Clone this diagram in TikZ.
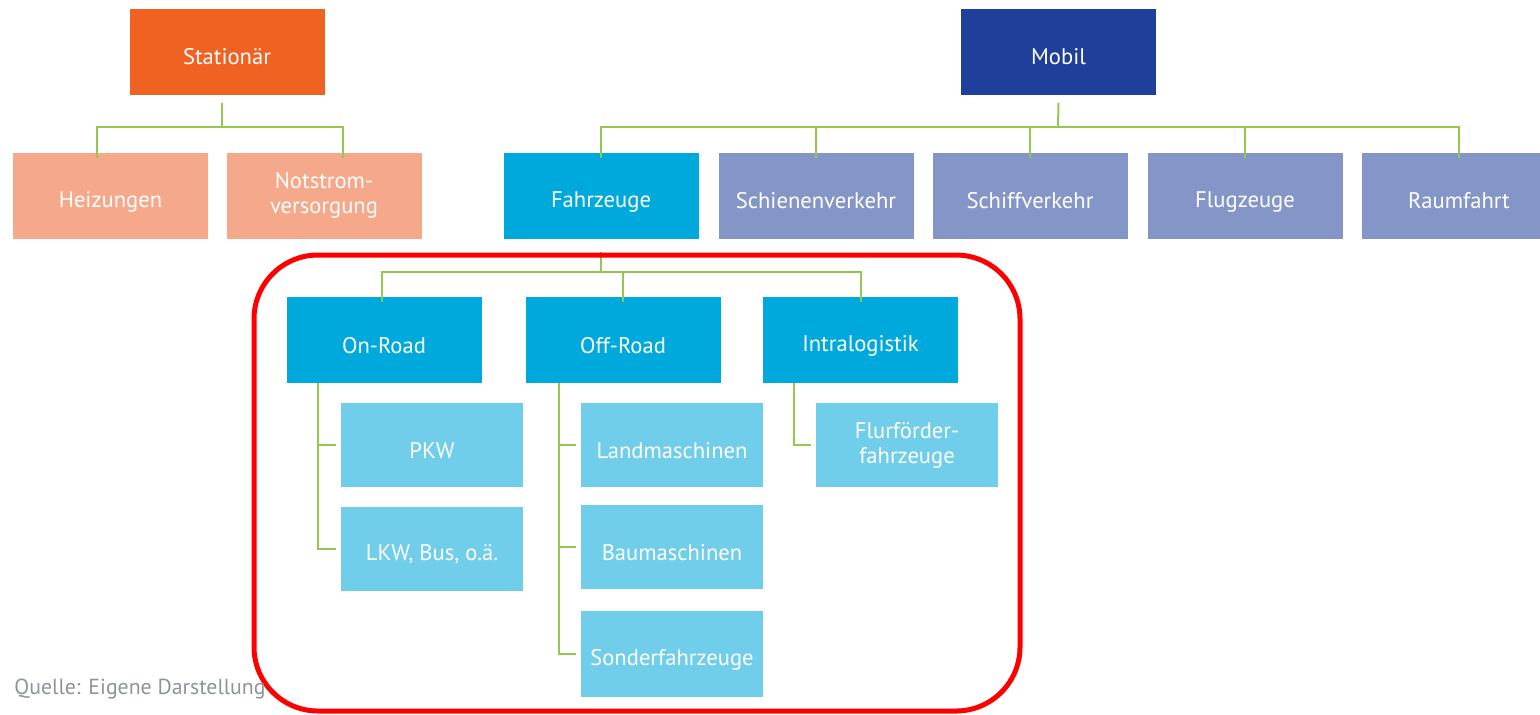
\documentclass[tikz,border=0pt]{standalone}
\usepackage{fontspec}
\setmainfont{PT Sans}
\usepackage{xcolor}
\usepackage{tikz}
\definecolor{statorange}{HTML}{EF6222}
\definecolor{statlight}{HTML}{F5A98A}
\definecolor{mobilblue}{HTML}{1E3F9A}
\definecolor{mobillight}{HTML}{8496C8}
\definecolor{fahrcyan}{HTML}{00A9DB}
\definecolor{fahrlight}{HTML}{70CEEA}
\definecolor{conngreen}{HTML}{92C850}
\definecolor{quellgray}{HTML}{8E949B}

\begin{document}
\begin{tikzpicture}[x=0.5pt, y=-0.5pt,
        box/.style={rectangle, text=white, minimum width=97.5pt, minimum height=43pt,
            inner sep=0pt, align=center, font=\fontsize{11.3}{12.5}\selectfont,
            execute at begin node={\rule[-1pt]{0pt}{15pt}},
            execute at end node={\rule[-1pt]{0pt}{1pt}}},
        sub/.style={box, fill=fahrlight, minimum width=91pt, minimum height=42pt},
        conn/.style={conngreen, line width=1pt}]
        \useasboundingbox (0,0) rectangle (1540,714);
        \fill[white] (0,0) rectangle (1540,714);

        % Stationaer
        \node[box, fill=statorange] (stat) at (227,51.5) {Stationär};
        \node[box, fill=statlight] (heiz) at (110.5,195.5) {Heizungen};
        \node[box, fill=statlight] (notstrom) at (324,195.5) {Notstrom-\\versorgung};
        \coordinate (sbar) at (222,127);
        \draw[conn] ([xshift=-2.5pt,yshift=-4pt]stat.south) -- (sbar);
        \draw[conn] ([xshift=-6.75pt,yshift=-3pt]heiz.north) |- (sbar) -| ([xshift=9.5pt,yshift=-3pt]notstrom.north);

        % Mobil
        \node[box, fill=mobilblue] (mobil) at (1058.5,51.5) {Mobil};
        \node[box, fill=fahrcyan] (fahr) at (601,195.5) {Fahrzeuge};
        \node[box, fill=mobillight] (schien) at (816,195.5) {Schienenverkehr};
        \node[box, fill=mobillight] (schiff) at (1030,195.5) {Schiffverkehr};
        \node[box, fill=mobillight] (flug) at (1245,195.5) {Flugzeuge};
        \node[box, fill=mobillight] (raum) at (1459,195.5) {Raumfahrt};
        \coordinate (mbar) at (1058,127);
        \draw[conn] ([yshift=-4pt]mobil.south) -- (mbar);
        \draw[conn] ([yshift=-3pt]fahr.north) |- (mbar) -| ([yshift=-3pt]raum.north);
        \foreach \n in {schien,schiff,flug}
            \draw[conn] ([yshift=-3pt]\n.north) -- (\n.north |- mbar);

        % Fahrzeuge
        \node[box, fill=fahrcyan] (onroad) at (384,340) {On-Road};
        \node[box, fill=fahrcyan] (offroad) at (623,340) {Off-Road};
        \node[box, fill=fahrcyan] (intra) at (860.5,340) {Intralogistik};
        \coordinate (fbar) at (601,272);
        \draw[conn] ([yshift=-6.5pt]fahr.south) -- (fbar);
        \draw[conn] ([xshift=-1pt,yshift=-2.5pt]onroad.north) |- (fbar) -| ([yshift=-2.5pt]intra.north);
        \draw[conn] ([yshift=-2.5pt]offroad.north) -- (offroad.north |- fbar);

        % On-Road
        \node[sub] (pkw) at (432,445) {PKW};
        \node[sub] (lkw) at (432,548.5) {LKW, Bus, o.ä.};
        \coordinate (onleg) at ([xshift=16pt]onroad.south west);
        \draw[conn] (onleg) |- ([xshift=-2.5pt]lkw.west);
        \draw[conn] (onleg |- pkw.west) -- ([xshift=-2.5pt]pkw.west);

        % Off-Road
        \node[sub] (land) at (672,445) {Landmaschinen};
        \node[sub] (bau) at (672,547) {Baumaschinen};
        \node[sub, minimum height=43pt] (sonder) at (672,654) {Sonderfahrzeuge};
        \coordinate (offleg) at ([xshift=17pt]offroad.south west);
        \draw[conn] (offleg) |- ([xshift=-2.5pt]sonder.west);
        \foreach \n in {land,bau}
            \draw[conn] (offleg |- \n.west) -- ([xshift=-2.5pt]\n.west);

        % Intralogistik
        \node[sub] (flur) at (907,445) {Flurförder-\\fahrzeuge};
        \coordinate (intraleg) at ([xshift=15.5pt]intra.south west);
        \draw[conn] (intraleg) |- ([xshift=-2.5pt]flur.west);

        % Markierung
        \draw[red, line width=2.5pt, rounded corners=32pt] (254,255) rectangle (1020,711);

        % Quelle
        \node[anchor=west, text=quellgray, inner sep=0pt, font=\fontsize{10.9}{12}\selectfont] (quelle) at (14,689) {Quelle: Eigene Darstellung};
    \end{tikzpicture}
\end{document}
